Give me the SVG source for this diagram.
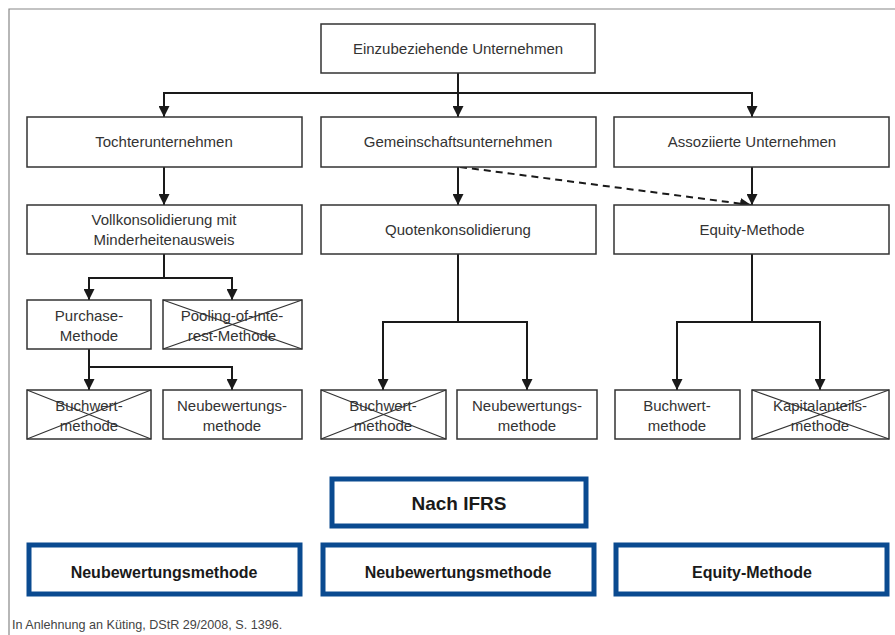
<svg xmlns="http://www.w3.org/2000/svg" width="895" height="635" viewBox="0 0 895 635">
<style>
.box{fill:#fff;stroke:#333;stroke-width:1.5}
.ifrs{fill:#fff;stroke:#0a4a90;stroke-width:5}
.t{font-family:"Liberation Sans",Arial,sans-serif;font-size:15px;fill:#333;text-anchor:middle}
.b{font-family:"Liberation Sans",Arial,sans-serif;font-weight:bold;fill:#1a1a1a;text-anchor:middle}
.c{fill:none;stroke:#1a1a1a;stroke-width:2}
.x{stroke:#333;stroke-width:1.2}
</style>
<defs>
<marker id="ah" viewBox="0 0 10 10" refX="10" refY="5" markerWidth="5.5" markerHeight="5.5" orient="auto-start-reverse" markerUnits="strokeWidth">
<path d="M0,0 L10,5 L0,10 z" fill="#1a1a1a"/>
</marker>
</defs>
<rect width="895" height="635" fill="#fff"/>
<path d="M9,635 V9 H895" fill="none" stroke="#888" stroke-width="1.2"/>

<g id="connectors">
<path class="c" d="M458,73 V93"/>
<path class="c" d="M164,117 V93 H752 V117" marker-start="url(#ah)" marker-end="url(#ah)"/>
<path class="c" d="M458,93 V117" marker-end="url(#ah)"/>
<path class="c" d="M164,167 V205" marker-end="url(#ah)"/>
<path class="c" d="M458,167 V205" marker-end="url(#ah)"/>
<path class="c" d="M752,167 V205" marker-end="url(#ah)"/>
<path class="c" d="M460,167 L751,205" stroke-dasharray="7,5" marker-end="url(#ah)"/>
<path class="c" d="M164,254 V278"/>
<path class="c" d="M89,300 V278 H232 V300" marker-start="url(#ah)" marker-end="url(#ah)"/>
<path class="c" d="M89,349 V390" marker-end="url(#ah)"/>
<path class="c" d="M89,367 H232 V390" marker-end="url(#ah)"/>
<path class="c" d="M458,254 V322"/>
<path class="c" d="M383,390 V322 H527 V390" marker-start="url(#ah)" marker-end="url(#ah)"/>
<path class="c" d="M752,254 V322"/>
<path class="c" d="M677,390 V322 H820 V390" marker-start="url(#ah)" marker-end="url(#ah)"/>
</g>

<g id="n-einzubeziehende">
<rect class="box" x="321" y="24" width="274" height="49"/>
<text class="t" x="458" y="54">Einzubeziehende Unternehmen</text>
</g>
<g id="n-tochter">
<rect class="box" x="27" y="117" width="275" height="50"/>
<text class="t" x="164" y="147">Tochterunternehmen</text>
</g>
<g id="n-gemeinschaft">
<rect class="box" x="321" y="117" width="275" height="50"/>
<text class="t" x="458" y="147">Gemeinschaftsunternehmen</text>
</g>
<g id="n-assoziiert">
<rect class="box" x="614" y="117" width="275" height="50"/>
<text class="t" x="752" y="147">Assoziierte Unternehmen</text>
</g>
<g id="n-voll">
<rect class="box" x="27" y="205" width="275" height="49"/>
<text class="t" x="164" y="225">Vollkonsolidierung mit</text>
<text class="t" x="164" y="245">Minderheitenausweis</text>
</g>
<g id="n-quoten">
<rect class="box" x="321" y="205" width="275" height="49"/>
<text class="t" x="458" y="235">Quotenkonsolidierung</text>
</g>
<g id="n-equity">
<rect class="box" x="614" y="205" width="275" height="49"/>
<text class="t" x="752" y="235">Equity-Methode</text>
</g>
<g id="n-purchase">
<rect class="box" x="27" y="300" width="124" height="49"/>
<text class="t" x="89" y="321">Purchase-</text>
<text class="t" x="89" y="341">Methode</text>
</g>
<g id="n-pooling">
<rect class="box" x="163" y="300" width="139" height="49"/>
<text class="t" x="232" y="321">Pooling-of-Inte-</text>
<text class="t" x="232" y="341">rest-Methode</text>
<path class="x" d="M163,300 L302,349 M302,300 L163,349"/>
</g>
<g id="n-buchwert1">
<rect class="box" x="27" y="390" width="124" height="49"/>
<text class="t" x="89" y="411">Buchwert-</text>
<text class="t" x="89" y="431">methode</text>
<path class="x" d="M27,390 L151,439 M151,390 L27,439"/>
</g>
<g id="n-neubew1">
<rect class="box" x="163" y="390" width="139" height="49"/>
<text class="t" x="232" y="411">Neubewertungs-</text>
<text class="t" x="232" y="431">methode</text>
</g>
<g id="n-buchwert2">
<rect class="box" x="321" y="390" width="125" height="49"/>
<text class="t" x="383" y="411">Buchwert-</text>
<text class="t" x="383" y="431">methode</text>
<path class="x" d="M321,390 L446,439 M446,390 L321,439"/>
</g>
<g id="n-neubew2">
<rect class="box" x="457" y="390" width="140" height="49"/>
<text class="t" x="527" y="411">Neubewertungs-</text>
<text class="t" x="527" y="431">methode</text>
</g>
<g id="n-buchwert3">
<rect class="box" x="615" y="390" width="125" height="49"/>
<text class="t" x="677" y="411">Buchwert-</text>
<text class="t" x="677" y="431">methode</text>
</g>
<g id="n-kapital">
<rect class="box" x="752" y="390" width="137" height="49"/>
<text class="t" x="820" y="411">Kapitalanteils-</text>
<text class="t" x="820" y="431">methode</text>
<path class="x" d="M752,390 L889,439 M889,390 L752,439"/>
</g>

<g id="n-ifrs">
<rect class="ifrs" x="332" y="479" width="254" height="47"/>
<text class="b" x="459" y="510" font-size="19">Nach IFRS</text>
</g>
<g id="n-ifrs-neubew1">
<rect class="ifrs" x="29" y="545" width="271" height="49"/>
<text class="b" x="164" y="578" font-size="16">Neubewertungsmethode</text>
</g>
<g id="n-ifrs-neubew2">
<rect class="ifrs" x="323" y="545" width="271" height="49"/>
<text class="b" x="458" y="578" font-size="16">Neubewertungsmethode</text>
</g>
<g id="n-ifrs-equity">
<rect class="ifrs" x="616" y="545" width="271" height="49"/>
<text class="b" x="752" y="578" font-size="16">Equity-Methode</text>
</g>

<text x="12" y="629" font-family="'Liberation Sans',Arial,sans-serif" font-size="12.6" fill="#444">In Anlehnung an Küting, DStR 29/2008, S. 1396.</text>
</svg>
